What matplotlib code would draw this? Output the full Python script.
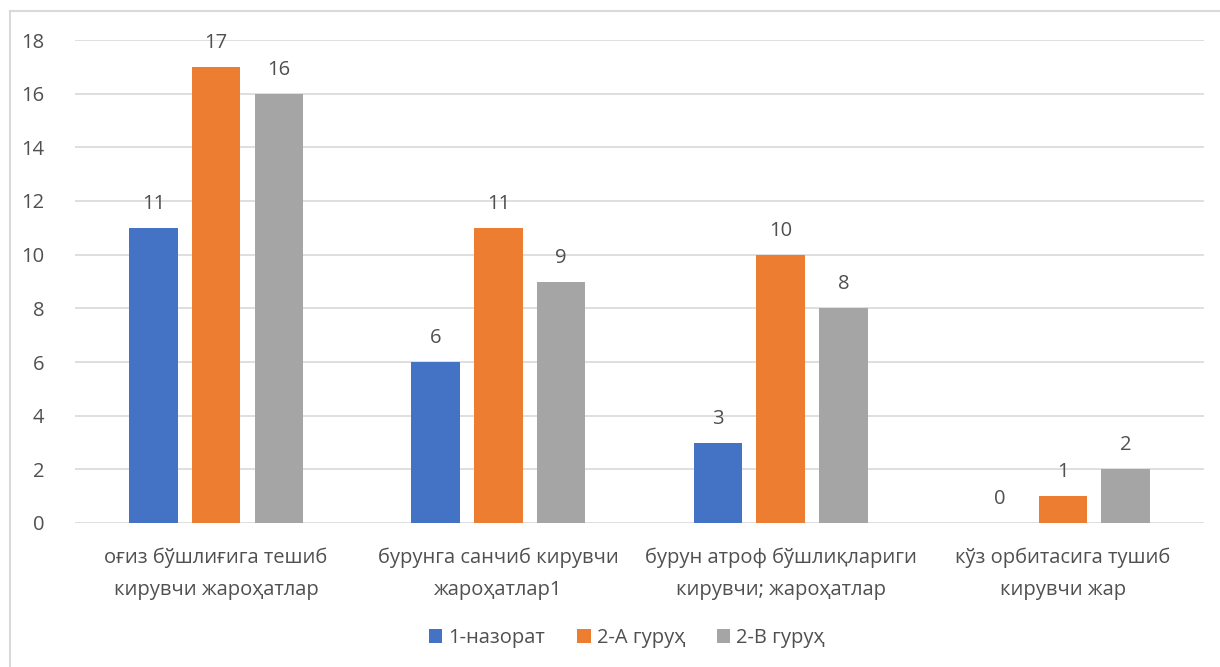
import matplotlib
matplotlib.use("Agg")
import matplotlib.pyplot as plt
from matplotlib.lines import Line2D
import numpy as np

categories = ["оғиз бўшлиғига тешиб\nкирувчи жароҳатлар",
              "бурунга санчиб кирувчи\nжароҳатлар1",
              "бурун атроф бўшлиқлариги\nкирувчи; жароҳатлар",
              "кўз орбитасига тушиб\nкирувчи жар"]
series_names = ["1-назорат", "2-А гуруҳ", "2-В гуруҳ"]
nazorat = [11, 6, 3, 0]
group_a = [17, 11, 10, 1]
group_b = [16, 9, 8, 2]
yticks = [0, 2, 4, 6, 8, 10, 12, 14, 16, 18]

colors = ["#4472C4", "#ED7D31", "#A5A5A5"]
text_color = "#505050"
plt.rcParams['font.family'] = ['Open Sans', 'DejaVu Sans']

fig = plt.figure(figsize=(12.2, 6.67), dpi=100)
ax = fig.add_axes([75/1220, 144/667, (1204-75)/1220, (523-40)/667])

x = np.arange(len(categories))
width = 0.172
spacing = 0.222
for i, (vals, name) in enumerate(zip([nazorat, group_a, group_b], series_names)):
    pos = x + (i - 1) * spacing
    ax.bar(pos, vals, width, color=colors[i], label=name, zorder=3)
    for xi, v in zip(pos, vals):
        ax.annotate(str(v), (xi, v), xytext=(0, 10), textcoords='offset points',
                    ha='center', va='bottom', fontsize=14.5, color=text_color)

ax.set_xlim(-0.5, len(categories) - 0.5)
ax.set_ylim(0, 18)
ax.set_yticks(yticks)
ax.set_xticks(x)
ax.set_xticklabels(categories, fontsize=14.5, color=text_color, linespacing=1.75)
ax.tick_params(axis='y', labelsize=14.5, labelcolor=text_color, length=0, pad=22)
ax.tick_params(axis='x', length=0, pad=18)
ax.grid(axis='y', color='#D9D9D9', linewidth=1.2, zorder=0)
for s in ax.spines.values():
    s.set_visible(False)

leg = fig.legend(loc='center', bbox_to_anchor=(627/1220, 1 - 638/667), ncol=3,
                 frameon=False, fontsize=14.5, handlelength=0.65, handleheight=0.65,
                 columnspacing=1.6, handletextpad=0.3)
for t in leg.get_texts():
    t.set_color(text_color)

# chart border (top and left visible)
fig.add_artist(Line2D([10/1220, 10/1220], [0, 1 - 11/667], transform=fig.transFigure,
                      color='#D9D9D9', linewidth=1.5))
fig.add_artist(Line2D([10/1220, 1], [1 - 11/667, 1 - 11/667], transform=fig.transFigure,
                      color='#D9D9D9', linewidth=1.5))

fig.savefig("out.png", dpi=100, facecolor='white')
